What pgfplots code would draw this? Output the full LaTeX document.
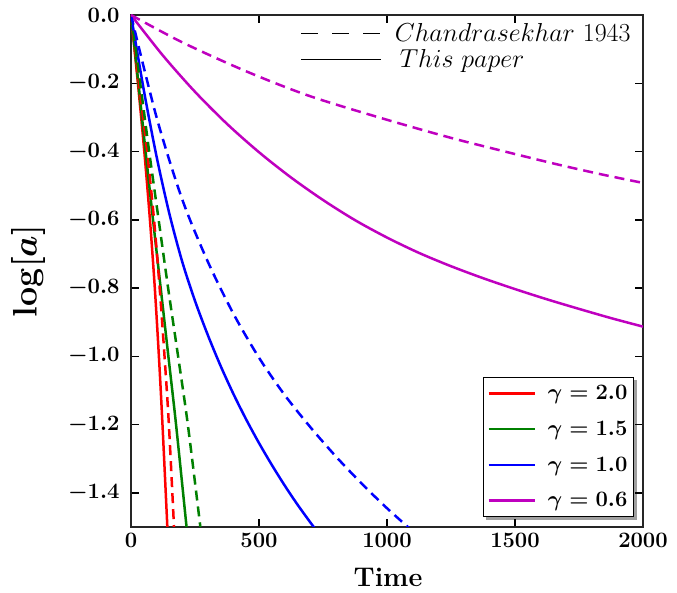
\RequirePackage{fix-cm}
\documentclass[border=0pt]{standalone}
\usepackage{pgfplots}
\pgfplotsset{compat=1.18}
\definecolor{mplgreen}{rgb}{0,0.5,0}
\definecolor{mplmag}{rgb}{0.75,0,0.75}

\pgfplotstableread{
t v
0 0
27 -0.2
52 -0.4
74 -0.6
93 -0.8
109 -1.0
123 -1.2
142 -1.5
}\redsolid
\pgfplotstableread{
t v
0 0
31 -0.2
63 -0.4
90 -0.6
112 -0.8
131 -1.0
148 -1.2
168 -1.5
}\reddash
\pgfplotstableread{
t v
0 0
29 -0.2
57 -0.4
86 -0.6
116 -0.8
146 -1.0
176 -1.2
217 -1.5
}\greensolid
\pgfplotstableread{
t v
0 0
36 -0.2
71 -0.4
108 -0.6
145 -0.8
184 -1.0
222 -1.2
271 -1.5
}\greendash
\pgfplotstableread{
t v
0 0
50 -0.22
100 -0.415
150 -0.5825
200 -0.7225
250 -0.8375
300 -0.9375
350 -1.028
400 -1.110
450 -1.185
500 -1.254
550 -1.318
600 -1.378
650 -1.434
700 -1.486
720 -1.506
}\bluesolid
\pgfplotstableread{
t v
0 0
100 -0.30
200 -0.54
300 -0.7225
400 -0.875
500 -1.004
600 -1.113
700 -1.207
800 -1.293
900 -1.372
1000 -1.445
1100 -1.512
}\bluedash
\pgfplotstableread{
t v
0 0
125 -0.119
250 -0.225
375 -0.319
500 -0.402
625 -0.476
750 -0.542
875 -0.601
1000 -0.652
1125 -0.697
1250 -0.736
1375 -0.771
1500 -0.803
1625 -0.833
1750 -0.861
1875 -0.888
2000 -0.913
}\magsolid
\pgfplotstableread{
t v
0 0
200 -0.080
450 -0.165
700 -0.238
1000 -0.307
1250 -0.360
1450 -0.398
1650 -0.435
1832 -0.466
2000 -0.492
}\magdash

\pgfplotsset{
  base/.style={
    at={(0pt,0pt)}, anchor=south west,
    scale only axis, width=512pt, height=512pt,
    xmin=0, xmax=2000, ymin=-1.5, ymax=0,
  },
  gammaleg/.style={
    legend style={anchor=south east,
      font=\fontsize{22}{25}\selectfont\boldmath,
      line width=1.2pt,
      inner xsep=4pt, inner ysep=6pt, row sep=16pt, cells={anchor=west}},
  },
}

\begin{document}
\begin{tikzpicture}
\useasboundingbox (-131pt,-66pt) rectangle (546pt,527pt);
% shadow of the gamma legend
\begin{axis}[base, hide axis, gammaleg,
  legend style={at={(0.9824+3/512,0.0195-3/512)}, draw=gray!75, fill=gray!75},
  legend image code/.code={\draw[line width=2.5pt, draw opacity=0] (0pt,0pt) -- (46pt,0pt); \path (56pt,0pt);},
]
\addlegendimage{red}\addlegendentry{\phantom{$\gamma=2.0$}}
\addlegendimage{red}\addlegendentry{\phantom{$\gamma=1.5$}}
\addlegendimage{red}\addlegendentry{\phantom{$\gamma=1.0$}}
\addlegendimage{red}\addlegendentry{\phantom{$\gamma=0.6$}}
\end{axis}
\begin{axis}[base, gammaleg,
  xtick={0,500,1000,1500,2000},
  ytick={-1.4,-1.2,-1.0,-0.8,-0.6,-0.4,-0.2,0},
  yticklabel style={/pgf/number format/fixed, /pgf/number format/zerofill, /pgf/number format/precision=1, xshift=-8pt},
  xticklabel style={/pgf/number format/1000 sep={}, yshift=-3pt},
  tick label style={font=\fontsize{22}{26}\selectfont\boldmath},
  tick align=inside, major tick length=8pt,
  tick style={line width=1.5pt, black},
  axis line style={line width=1.5pt, black!85},
  minor tick num=0,
  xlabel={\textbf{Time}},
  xlabel style={at={(axis description cs:0.502,-0.098)}, anchor=center, font=\fontsize{27}{32}\selectfont},
  ylabel={$\log[a]$},
  ylabel style={at={(axis description cs:-0.201,0.5)}, anchor=center, font=\fontsize{34}{40}\selectfont\boldmath},
  legend style={at={(0.9824,0.0195)}, draw=black, fill=white},
  legend image code/.code={\draw[#1, line width=2.5pt] (0pt,0pt) -- (46pt,0pt); \path (56pt,0pt);},
  every axis plot/.append style={line width=2.5pt},
]
\addplot[red, smooth] table[x=t, y=v] {\redsolid};
\addlegendentry{$\gamma=2.0$}
\addplot[mplgreen, smooth] table[x=t, y=v] {\greensolid};
\addlegendentry{$\gamma=1.5$}
\addplot[blue, smooth] table[x=t, y=v] {\bluesolid};
\addlegendentry{$\gamma=1.0$}
\addplot[mplmag, smooth] table[x=t, y=v] {\magsolid};
\addlegendentry{$\gamma=0.6$}
\addplot[red, smooth, dash pattern=on 10pt off 6pt, forget plot] table[x=t, y=v] {\reddash};
\addplot[mplgreen, smooth, dash pattern=on 10pt off 6pt, forget plot] table[x=t, y=v] {\greendash};
\addplot[blue, smooth, dash pattern=on 10pt off 6pt, forget plot] table[x=t, y=v] {\bluedash};
\addplot[mplmag, smooth, dash pattern=on 10pt off 6pt, forget plot] table[x=t, y=v] {\magdash};
\end{axis}
\begin{axis}[base, hide axis,
  legend style={at={(0.980,0.988)}, anchor=north east,
    font=\fontsize{26}{29}\selectfont,
    draw=none, fill=none, inner xsep=0pt, inner ysep=0pt, row sep=3pt,
    cells={anchor=west}},
  legend image code/.code={\draw[#1] (0pt,0pt) -- (80pt,0pt); \path (91pt,0pt);},
]
\addlegendimage{black, line width=1pt, dash pattern=on 17pt off 14pt}
\addlegendentry{$Chandrasekhar$ 1943}
\addlegendimage{black, line width=1pt}
\addlegendentry{\hspace{5pt}$This\ paper$}
\end{axis}
\end{tikzpicture}
\end{document}
